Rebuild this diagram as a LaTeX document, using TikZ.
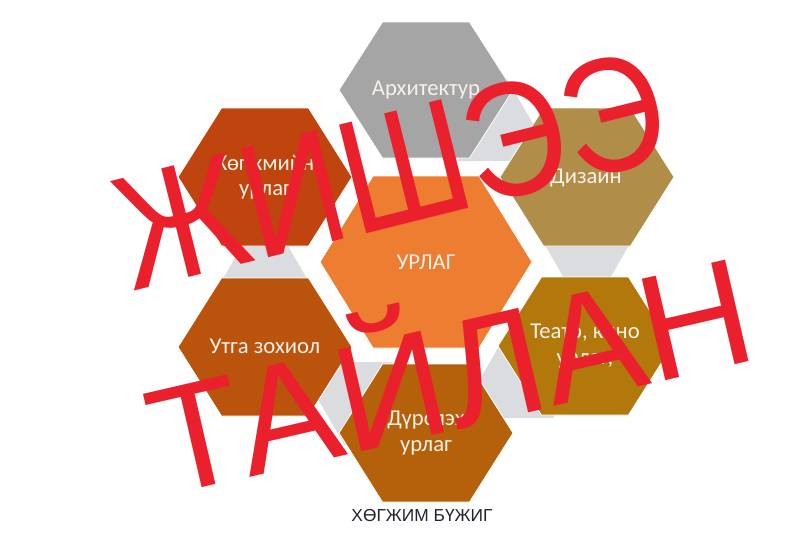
\documentclass[tikz,border=0pt]{standalone}
\usepackage{fontspec}
\setmainfont{Carlito}
\newfontfamily\capfont{Liberation Sans}
\newfontfamily\redfont{Liberation Sans}
\usetikzlibrary{calc}
\definecolor{cgrey}{RGB}{165,165,165}
\definecolor{cmus}{RGB}{192,68,14}
\definecolor{clit}{RGB}{186,84,12}
\definecolor{cfine}{RGB}{181,96,10}
\definecolor{cthe}{RGB}{178,120,12}
\definecolor{cdes}{RGB}{176,141,72}
\definecolor{ccen}{RGB}{237,125,49}
\definecolor{ctri}{RGB}{218,220,223}
\definecolor{ctxt}{RGB}{248,240,232}
\definecolor{ccap}{RGB}{35,35,45}
\definecolor{cred}{RGB}{234,32,44}
\newcommand{\hexshape}[5]{%
  \fill[#5, draw=white, line width=0.6pt] ({#1-#3},#2) -- ({#1-#3/2},{#2-#4}) -- ({#1+#3/2},{#2-#4}) -- ({#1+#3},#2) -- ({#1+#3/2},{#2+#4}) -- ({#1-#3/2},{#2+#4}) -- cycle;}
\newcommand{\gaptri}[3]{%
  \fill[ctri] ($(#1,#2)+(#3:56)$) -- ($(#1,#2)+(#3+120:56)$) -- ($(#1,#2)+(#3+240:56)$) -- cycle;}
\tikzset{
  lbl/.style={text=ctxt, font=\fontsize{17}{17}\selectfont, align=center, inner sep=0pt},
  redtxt/.style={text=cred, inner sep=0pt, font=\redfont\fontsize{122}{122}\selectfont},
}
\begin{document}
\begin{tikzpicture}[x=0.75pt,y=-0.75pt]
\useasboundingbox (0,0) rectangle (801,544);
% connector triangles
\gaptri{265}{262}{-90}
\gaptri{587}{262}{90}
\gaptri{506}{133}{30}
\gaptri{506}{390}{150}
\gaptri{345}{390}{-150}
% hexagons
\hexshape{426}{90}{87}{68}{cgrey}
\hexshape{587}{177}{87}{69}{cdes}
\hexshape{585}{346}{87}{69}{cthe}
\hexshape{426}{433}{87}{69}{cfine}
\hexshape{265}{347}{87}{69}{clit}
\hexshape{265}{177}{87}{69}{cmus}
\hexshape{426}{262}{106}{86}{ccen}
% labels
\node[lbl] (arch) at (426,90) {Архитектур};
\node[lbl] (des) at (586,178) {Дизайн};
\node[lbl] (the) at (585,346) {Театр, кино\\[2pt]урлаг,};
\node[lbl] (fine) at (426,433) {Дүрслэх\\[2pt]урлаг};
\node[lbl] (lit) at (265,346) {Утга зохиол};
\node[lbl] (mus) at (265,177) {Хөгжмийн\\[2pt]урлаг};
\node[lbl] (cen) at (426,262) {УРЛАГ};
\node[text=ccap, inner sep=0pt, font=\capfont\fontsize{13}{13}\selectfont] (cap) at (422,516) {ХӨГЖИМ БҮЖИГ};
% red overlay
\node[redtxt, rotate=14, xscale=0.86] (w1) at (390,170) {ЖИШЭЭ};
\node[redtxt, rotate=13, xscale=0.94, yscale=0.93] (w2) at (447,362) {ТАЙЛАН};
\end{tikzpicture}
\end{document}
